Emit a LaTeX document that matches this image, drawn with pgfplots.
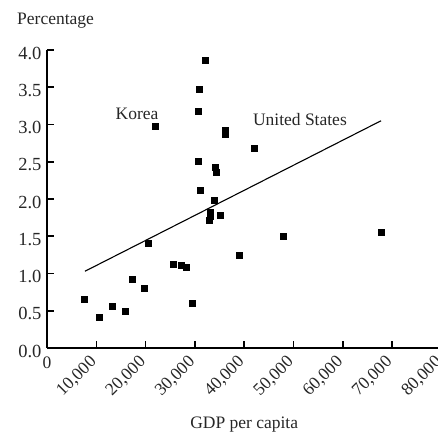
\documentclass[border=0pt]{standalone}
\usepackage{fontspec}
\setmainfont{Liberation Serif}
\usepackage{pgfplots}
\pgfplotsset{compat=1.18}
\newcommand{\lblfont}{\fontsize{17.5}{20}\selectfont}
\begin{document}
\begin{tikzpicture}
\useasboundingbox (-47pt,-87pt) rectangle (391pt,348pt);
\begin{axis}[
  at={(0,0)}, anchor=origin,
  scale only axis, width=394.4pt, height=298pt,
  xmin=0, xmax=80000, ymin=0, ymax=4,
  axis lines*=left,
  axis line style={line width=2pt, black},
  xtick={10000,20000,...,80000},
  ytick={0,0.5,...,4},
  tick align=inside,
  major tick length=7pt,
  tick style={line width=1.6pt, black},
  scaled x ticks=false,
  /pgf/number format/assume math mode=true,
  tick label style={font=\lblfont, text=black!85},
  xticklabel style={rotate=45, anchor=east, /pgf/number format/1000 sep={,}},
  xticklabel shift=9pt,
  yticklabel style={font=\fontsize{18.5}{20}\selectfont, yshift=-3pt, xshift=-2pt,
    /pgf/number format/fixed, /pgf/number format/precision=1,
    /pgf/number format/fixed zerofill},
  extra x ticks={0},
  extra x tick style={xticklabel style={rotate=-45, anchor=north, yshift=4pt}},
  xlabel={GDP per capita},
  xlabel style={font=\lblfont, text=black!85,
    at={(axis description cs:0.5,0)}, anchor=base, yshift=-80pt},
  clip=false,
]
\addplot[only marks, mark=square*, mark size=3pt, black] coordinates {
  (7640,0.66) (10680,0.42) (13250,0.56) (15890,0.50) (17380,0.93)
  (19740,0.80) (20550,1.41) (21970,2.98) (25560,1.13) (27320,1.11)
  (28190,1.09) (29550,0.60) (30630,2.51) (30700,3.18) (30900,3.48)
  (31030,2.12) (32050,3.86) (32800,1.72) (33060,1.77) (33200,1.82)
  (34010,1.98) (34080,2.43) (34340,2.36) (35230,1.78) (36100,2.92)
  (36100,2.87) (38950,1.24) (41990,2.68) (48000,1.50) (67750,1.55)
};
\addplot[black, line width=1.1pt, no marks] coordinates {(7700,1.03) (67750,3.05)};
\node[font=\lblfont, text=black!85] at (axis cs:18260,3.14) {Korea};
\node[font=\lblfont, text=black!85] at (axis cs:51300,3.07) {United States};
\node[font=\lblfont, text=black!85, anchor=base west, inner sep=0pt]
  at (rel axis cs:0,1) [xshift=-30pt, yshift=25pt] {Percentage};
\end{axis}
\end{tikzpicture}
\end{document}
